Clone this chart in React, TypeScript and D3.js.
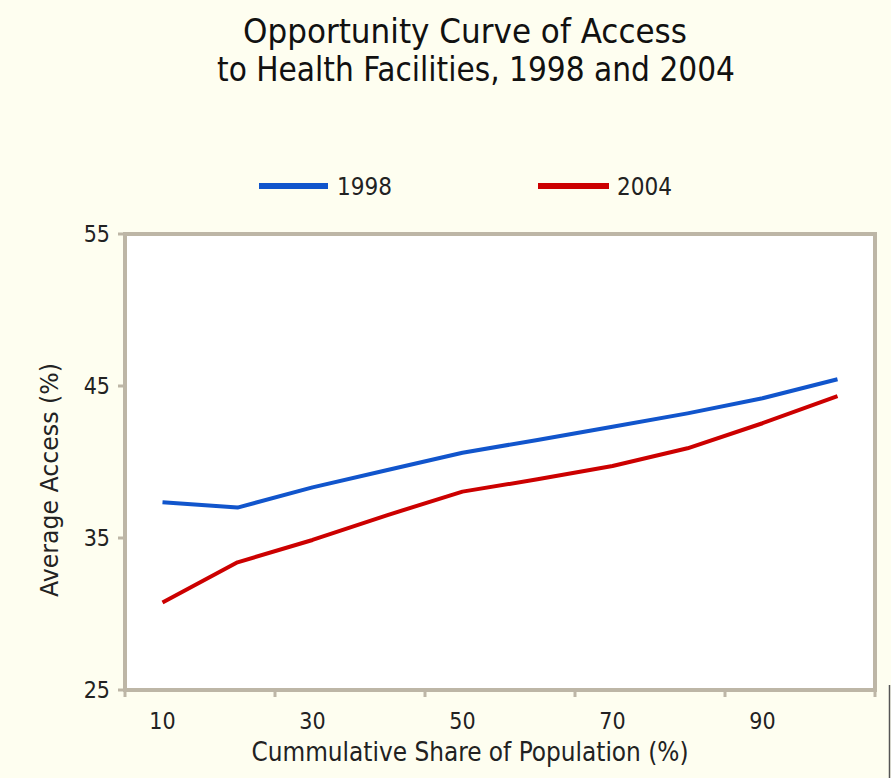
import React from "react";
import * as d3 from "d3";

const categories = [10, 20, 30, 40, 50, 60, 70, 80, 90, 100];
const series1998 = [37.35, 37.0, 38.33, 39.47, 40.61, 41.45, 42.32, 43.2, 44.19, 45.44];
const series2004 = [30.75, 33.4, 34.87, 36.51, 38.05, 38.86, 39.74, 40.9, 42.55, 44.34];
const yTicks = [25, 35, 45, 55];
const seriesNames = ["1998", "2004"];
const seriesColors = ["#1155cc", "#cc0000"];

const W = 891;
const H = 778;
const left = 125;
const right = 875;
const top = 234;
const bottom = 690;
const FONT = "'DejaVu Sans Condensed', 'Liberation Sans Narrow', sans-serif";

export default function App() {
  const x = d3.scaleBand<number>().domain(categories).range([left, right]).padding(0);
  const y = d3.scaleLinear().domain([25, 55]).range([bottom, top]);
  const line = d3
    .line<number>()
    .x((_, i) => (x(categories[i]) as number) + x.bandwidth() / 2)
    .y((d) => y(d));
  const boundaries = categories
    .map((c, i) => ({ c, i }))
    .filter((d) => d.i % 2 === 0)
    .map((d) => x(d.c) as number)
    .concat([right]);
  const frame = "#bdb6a6";
  const all = [series1998, series2004];
  return (
    <svg
      width={W}
      height={H}
      style={{ position: "absolute", left: 0, top: 0, display: "block" }}
      fontFamily={FONT}
    >
      <rect x={0} y={0} width={W} height={H} fill="#fefef0" />
      <text x={465} y={43} textAnchor="middle" fontSize={34} fill="#111" textLength={444} lengthAdjust="spacingAndGlyphs">
        Opportunity Curve of Access
      </text>
      <text x={476} y={81} textAnchor="middle" fontSize={34} fill="#111" textLength={518} lengthAdjust="spacingAndGlyphs">
        to Health Facilities, 1998 and 2004
      </text>
      {seriesNames.map((n, i) => (
        <g key={n}>
          <line
            x1={i === 0 ? 259 : 538}
            x2={i === 0 ? 328 : 609}
            y1={186}
            y2={186}
            stroke={seriesColors[i]}
            strokeWidth={6}
          />
          <text x={i === 0 ? 337 : 617} y={195} fontSize={24} fill="#222">
            {n}
          </text>
        </g>
      ))}
      <rect x={left} y={top} width={right - left} height={bottom - top} fill="#ffffff" stroke={frame} strokeWidth={4} />
      {yTicks.map((t) => (
        <g key={t}>
          <line x1={left - 7} x2={left} y1={y(t)} y2={y(t)} stroke={frame} strokeWidth={3} />
          <text x={110} y={y(t) + 8} textAnchor="end" fontSize={23} fill="#222">
            {t}
          </text>
        </g>
      ))}
      {boundaries.map((b, i) => (
        <line key={i} x1={b} x2={b} y1={bottom} y2={bottom + 7} stroke={frame} strokeWidth={3} />
      ))}
      {categories.map((c, i) =>
        i % 2 === 0 ? (
          <text
            key={c}
            x={(x(c) as number) + x.bandwidth() / 2}
            y={729}
            textAnchor="middle"
            fontSize={23}
            fill="#222"
          >
            {c}
          </text>
        ) : null
      )}
      <text x={470} y={761} textAnchor="middle" fontSize={26} fill="#222" textLength={437} lengthAdjust="spacingAndGlyphs">
        Cummulative Share of Population (%)
      </text>
      <text
        transform={`translate(58,480) rotate(-90)`}
        textAnchor="middle"
        fontSize={24}
        fill="#222"
        textLength={234}
        lengthAdjust="spacingAndGlyphs"
      >
        Average Access (%)
      </text>
      {all.map((s, i) => (
        <path key={i} d={line(s) || ""} fill="none" stroke={seriesColors[i]} strokeWidth={4} strokeLinejoin="round" />
      ))}
      <line x1={889.5} x2={889.5} y1={685} y2={H} stroke="#555" strokeWidth={1.5} />
    </svg>
  );
}
